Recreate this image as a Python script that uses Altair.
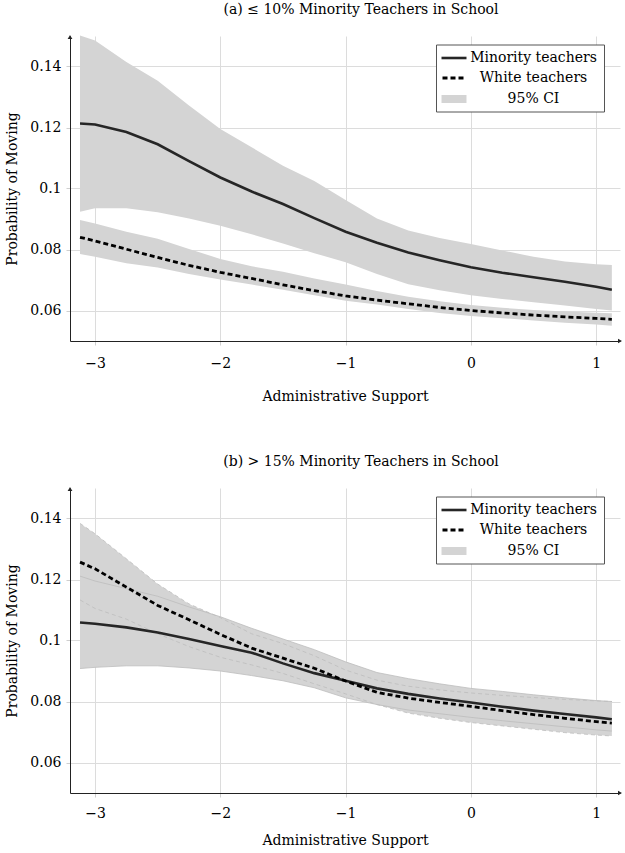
import altair as alt
import pandas as pd

# ---- data ----
xs = [-3.12, -3.0, -2.75, -2.5, -2.25, -2.0, -1.75, -1.5, -1.25, -1.0,
      -0.75, -0.5, -0.25, 0.0, 0.25, 0.5, 0.75, 1.0, 1.125]

# panel (a)  <= 10% minority teachers
a_min    = [0.1213, 0.1210, 0.1185, 0.1145, 0.1090, 0.1036, 0.0990, 0.0949, 0.0903, 0.0858,
            0.0822, 0.0790, 0.0765, 0.0742, 0.0724, 0.0709, 0.0694, 0.0678, 0.0668]
a_min_hi = [0.1502, 0.1485, 0.1415, 0.1353, 0.1272, 0.1195, 0.1135, 0.1075, 0.1025, 0.0962,
            0.0902, 0.0862, 0.0838, 0.0818, 0.0797, 0.0776, 0.0761, 0.0752, 0.0749]
a_min_lo = [0.0924, 0.0935, 0.0935, 0.0922, 0.0902, 0.0878, 0.0850, 0.0820, 0.0788, 0.0758,
            0.0720, 0.0686, 0.0666, 0.0650, 0.0638, 0.0627, 0.0616, 0.0605, 0.0600]
a_wht    = [0.0840, 0.0828, 0.0801, 0.0774, 0.0748, 0.0725, 0.0705, 0.0684, 0.0665, 0.0648,
            0.0634, 0.0622, 0.0610, 0.0600, 0.0592, 0.0585, 0.0579, 0.0574, 0.0571]
a_wht_hi = [0.0897, 0.0885, 0.0858, 0.0835, 0.0802, 0.0769, 0.0745, 0.0727, 0.0705, 0.0685,
            0.0664, 0.0645, 0.0630, 0.0618, 0.0609, 0.0602, 0.0597, 0.0593, 0.0591]
a_wht_lo = [0.0785, 0.0776, 0.0755, 0.0741, 0.0720, 0.0702, 0.0685, 0.0668, 0.0650, 0.0632,
            0.0620, 0.0605, 0.0592, 0.0582, 0.0575, 0.0567, 0.0560, 0.0554, 0.0550]

# panel (b)  > 15% minority teachers
b_min    = [0.1059, 0.1055, 0.1043, 0.1026, 0.1005, 0.0982, 0.0960, 0.0925, 0.0893, 0.0868,
            0.0843, 0.0825, 0.0810, 0.0797, 0.0783, 0.0770, 0.0759, 0.0748, 0.0742]
b_min_hi = [0.1211, 0.1195, 0.1170, 0.1145, 0.1110, 0.1078, 0.1040, 0.1005, 0.0970, 0.0930,
            0.0895, 0.0875, 0.0858, 0.0843, 0.0833, 0.0822, 0.0812, 0.0803, 0.0800]
b_min_lo = [0.0908, 0.0912, 0.0917, 0.0917, 0.0910, 0.0900, 0.0885, 0.0868, 0.0845, 0.0812,
            0.0790, 0.0772, 0.0760, 0.0748, 0.0737, 0.0727, 0.0717, 0.0707, 0.0703]
b_wht    = [0.1257, 0.1235, 0.1175, 0.1115, 0.1068, 0.1020, 0.0975, 0.0942, 0.0909, 0.0867,
            0.0830, 0.0811, 0.0797, 0.0784, 0.0770, 0.0757, 0.0745, 0.0734, 0.0729]
b_wht_hi = [0.1384, 0.1350, 0.1268, 0.1185, 0.1120, 0.1075, 0.1022, 0.0990, 0.0950, 0.0903,
            0.0870, 0.0850, 0.0838, 0.0828, 0.0820, 0.0813, 0.0807, 0.0802, 0.0800]
b_wht_lo = [0.1133, 0.1105, 0.1070, 0.1022, 0.0980, 0.0945, 0.0920, 0.0892, 0.0858, 0.0825,
            0.0790, 0.0762, 0.0745, 0.0731, 0.0720, 0.0709, 0.0698, 0.0690, 0.0687]

x_ticks = [-3, -2, -1, 0, 1]
y_ticks = [0.06, 0.08, 0.1, 0.12, 0.14]
titles = ["(a) \u2264 10% Minority Teachers in School", "(b) > 15% Minority Teachers in School"]
legend_labels = ["Minority teachers", "White teachers", "95% CI"]
x_title = "Administrative Support"
y_title = "Probability of Moving"

W, H = 550, 305
FONT = "DejaVu Serif"
FS = 14
BAND = "#d4d4d4"


def make_x(label_pad, title_pad):
    def X(field):
        return alt.X(field, type="quantitative",
                     scale=alt.Scale(domain=[-3.2, 1.19], nice=False, zero=False),
                     axis=alt.Axis(values=x_ticks, title=x_title, labelPadding=label_pad,
                                   titlePadding=title_pad, format="d"))
    return X


def Y(field):
    return alt.Y(field, type="quantitative",
                 scale=alt.Scale(domain=[0.05, 0.15], nice=False, zero=False),
                 axis=alt.Axis(values=y_ticks, title=y_title, format="~g",
                               labelPadding=5, titlePadding=10))


def panel(df, title, show_edges, X):
    base = alt.Chart(df)
    band_m = base.mark_area(color=BAND, opacity=1).encode(x=X("x"), y=Y("min_lo"), y2="min_hi")
    band_w = base.mark_area(color=BAND, opacity=1).encode(x=X("x"), y=Y("wht_lo"), y2="wht_hi")
    edges = []
    if show_edges:
        for f in ["min_lo", "min_hi"]:
            edges.append(base.mark_line(color="#bdbdbd", strokeWidth=0.8).encode(x=X("x"), y=Y(f)))
        for f in ["wht_lo", "wht_hi"]:
            edges.append(base.mark_line(color="#bdbdbd", strokeWidth=0.8, strokeDash=[4, 3]).encode(x=X("x"), y=Y(f)))
    line_m = base.mark_line(color="#262626", strokeWidth=2.6).encode(x=X("x"), y=Y("min"))
    line_w = base.mark_line(color="#000000", strokeWidth=2.8, strokeDash=[5, 3]).encode(x=X("x"), y=Y("wht"))

    one = alt.Chart(pd.DataFrame({"k": [0]}))
    arrow_up = one.mark_point(shape="triangle-up", filled=True, color="#222", size=22, opacity=1).encode(
        x=alt.value(0), y=alt.value(1))
    arrow_right = one.mark_point(shape="triangle-right", filled=True, color="#222", size=22, opacity=1).encode(
        x=alt.value(W), y=alt.value(H))

    lx0, lx1, ly0, ly1 = 366.5, 534.5, 9, 76
    box = one.mark_rect(fill="white", stroke="#555", strokeWidth=1).encode(
        x=alt.value(lx0), x2=alt.value(lx1), y=alt.value(ly0), y2=alt.value(ly1))
    rows = [22, 42, 63]
    s0, s1, tx = 371.5, 396.5, 463.5
    leg_m = one.mark_rule(color="#262626", strokeWidth=2.6).encode(
        x=alt.value(s0), x2=alt.value(s1), y=alt.value(rows[0]))
    leg_w = one.mark_rule(color="#000", strokeWidth=2.8, strokeDash=[5, 3]).encode(
        x=alt.value(s0 + 1), x2=alt.value(s1), y=alt.value(rows[1]))
    leg_ci = one.mark_rect(color=BAND).encode(
        x=alt.value(s0), x2=alt.value(s1), y=alt.value(rows[2] - 4), y2=alt.value(rows[2] + 4))
    texts = [one.mark_text(text=lab, font=FONT, fontSize=FS, align="center", baseline="middle",
                           color="black").encode(x=alt.value(tx), y=alt.value(r))
             for lab, r in zip(legend_labels, rows)]

    return alt.layer(band_m, band_w, *edges, line_m, line_w, arrow_up, arrow_right,
                     box, leg_m, leg_w, leg_ci, *texts).properties(
        width=W, height=H,
        title=alt.TitleParams(title, font=FONT, fontSize=FS, fontWeight="normal",
                              color="black", offset=18, dx=16))


df_a = pd.DataFrame({"x": xs, "min": a_min, "min_lo": a_min_lo, "min_hi": a_min_hi,
                     "wht": a_wht, "wht_lo": a_wht_lo, "wht_hi": a_wht_hi})
df_b = pd.DataFrame({"x": xs, "min": b_min, "min_lo": b_min_lo, "min_hi": b_min_hi,
                     "wht": b_wht, "wht_lo": b_wht_lo, "wht_hi": b_wht_hi})

chart = alt.vconcat(panel(df_a, titles[0], False, make_x(11, 19)),
                    panel(df_b, titles[1], True, make_x(9, 13)), spacing=51).configure(
    font=FONT,
    padding={"left": 5, "top": 2, "right": 2, "bottom": 2},
).configure_view(stroke=None).configure_axis(
    domainColor="#222", domainWidth=1, gridColor="#dcdcdc", gridWidth=1,
    tickColor="#cfcfcf", tickSize=4, labelFont=FONT, labelFontSize=FS, labelColor="black",
    titleFont=FONT, titleFontSize=FS, titleFontWeight="normal", titleColor="black",
)

chart.save("out.html", embed_options={"renderer": "svg", "actions": False})
